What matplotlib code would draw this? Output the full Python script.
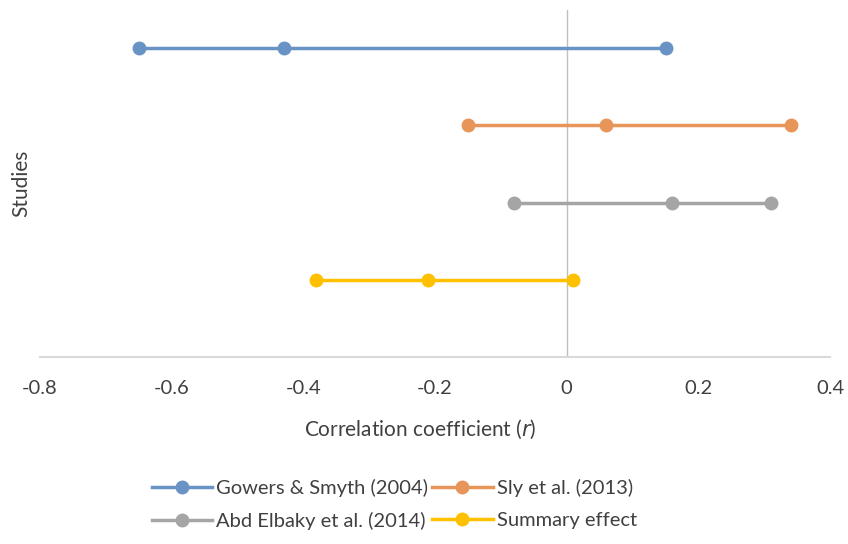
import matplotlib.pyplot as plt
import numpy as np

plt.rcParams['font.family'] = ['Lato', 'DejaVu Sans']

studies = ['Gowers & Smyth (2004)', 'Sly et al. (2013)',
           'Abd Elbaky et al. (2014)', 'Summary effect']
lower = [-0.65, -0.15, -0.08, -0.38]
point = [-0.43, 0.06, 0.16, -0.21]
upper = [0.15, 0.34, 0.31, 0.01]
ypos = [4, 3, 2, 1]
colors = ['#6a93c5', '#e8955a', '#a5a5a5', '#ffc000']

fig = plt.figure(figsize=(8.48, 5.44), dpi=100)
ax = fig.add_axes([0.047, 0.344, 0.932, 0.638])

handles = []
for name, lo, pt, up, y, c in zip(studies, lower, point, upper, ypos, colors):
    h, = ax.plot([lo, pt, up], [y, y, y], color=c, lw=2.5, marker='o', ms=9, label=name)
    handles.append(h)

ax.axvline(0, color='#bfbfbf', lw=1, zorder=0)
ax.set_xlim(-0.8, 0.4)
ax.set_ylim(0, 4.5)
ax.set_xticks(np.arange(-0.8, 0.41, 0.2))
ax.set_xticklabels(['-0.8', '-0.6', '-0.4', '-0.2', '0', '0.2', '0.4'])
ax.set_yticks([])
ax.tick_params(axis='x', length=0, pad=17, labelsize=14.5, colors='#404040')
for s in ['top', 'right', 'left']:
    ax.spines[s].set_visible(False)
ax.spines['bottom'].set_color('#d9d9d9')
ax.spines['bottom'].set_linewidth(1.5)

ax.set_xlabel('Correlation coefficient ($\\it{r}$)', fontsize=15, color='#404040', labelpad=12)
ax.xaxis.set_label_coords(0.481, -0.175)
ax.set_ylabel('Studies', fontsize=15, color='#404040', labelpad=6)

# legend is filled row by row in the reference
order = [0, 2, 1, 3]
fig.legend([handles[i] for i in order], [studies[i] for i in order],
           loc='center', bbox_to_anchor=(0.465, 0.072), ncol=2, frameon=False,
           fontsize=14.5, handlelength=3.0, handletextpad=0.2, columnspacing=0.2,
           labelspacing=0.75, labelcolor='#404040')

fig.savefig('out.png', dpi=100)
